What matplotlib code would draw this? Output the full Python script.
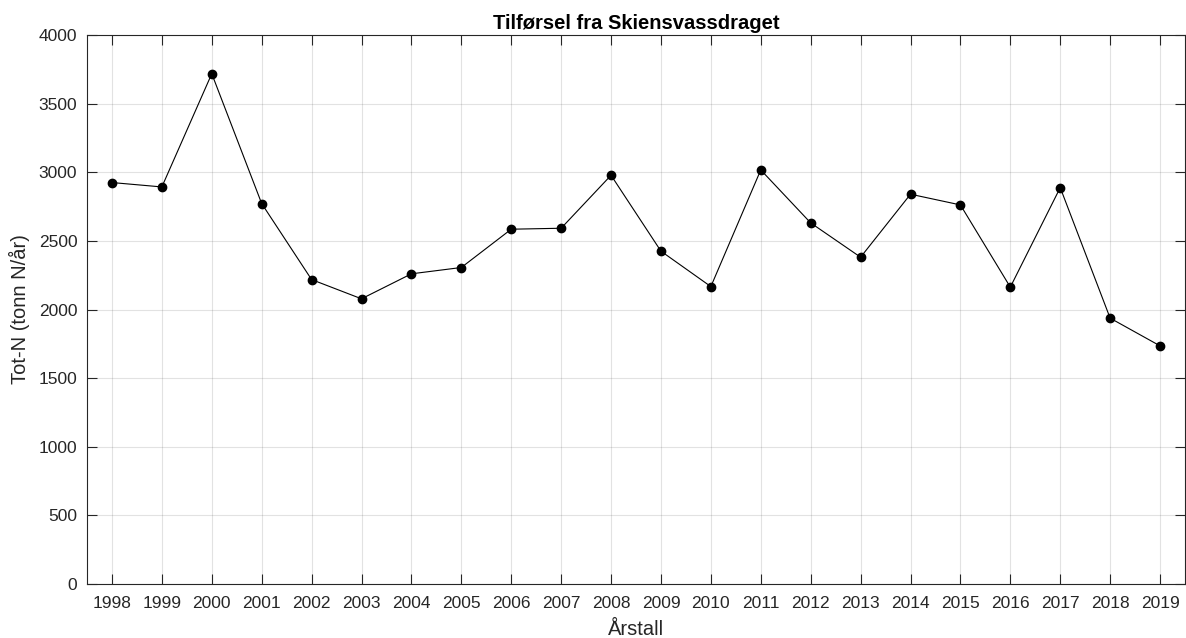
import numpy as np
import matplotlib.pyplot as plt

plt.rcParams['font.family'] = ['Liberation Sans', 'DejaVu Sans']

years = [1998, 1999, 2000, 2001, 2002, 2003, 2004, 2005, 2006, 2007, 2008,
         2009, 2010, 2011, 2012, 2013, 2014, 2015, 2016, 2017, 2018, 2019]
tot_n = [2925, 2893, 3718, 2772, 2218, 2078, 2260, 2306, 2585, 2592, 2978,
         2425, 2167, 3017, 2631, 2381, 2840, 2762, 2163, 2888, 1937, 1735]
yticks = [0, 500, 1000, 1500, 2000, 2500, 3000, 3500, 4000]

axcol = '#262626'

fig = plt.figure(figsize=(11.86, 6.38), dpi=100)
ax = fig.add_axes([87/1186, 54/638, 1098/1186, 549/638])

ax.plot(years, tot_n, '-', color='black', linewidth=0.8, marker='o',
        markersize=6, markerfacecolor='black', markeredgecolor='black')

ax.set_xlim(1997.5, 2019.5)
ax.set_ylim(0, 4000)
ax.set_xticks(years)
ax.set_yticks(yticks)

ax.grid(True, color='#262626', alpha=0.13, linewidth=0.8)
ax.set_axisbelow(True)
ax.tick_params(direction='in', length=7, width=0.8, colors=axcol,
               labelsize=12.5, top=True, right=True)
ax.tick_params(axis='x', pad=9)
ax.tick_params(axis='y', pad=7)
for s in ax.spines.values():
    s.set_color(axcol)
    s.set_linewidth(0.8)

ax.set_title('Tilførsel fra Skiensvassdraget', fontsize=14.5,
             fontweight='bold', color='black', pad=4)
ax.set_xlabel('Årstall', fontsize=14.5, color=axcol, labelpad=6)
ax.set_ylabel('Tot-N (tonn N/år)', fontsize=14.5, color=axcol, labelpad=6)

fig.savefig('out.png', dpi=100)
